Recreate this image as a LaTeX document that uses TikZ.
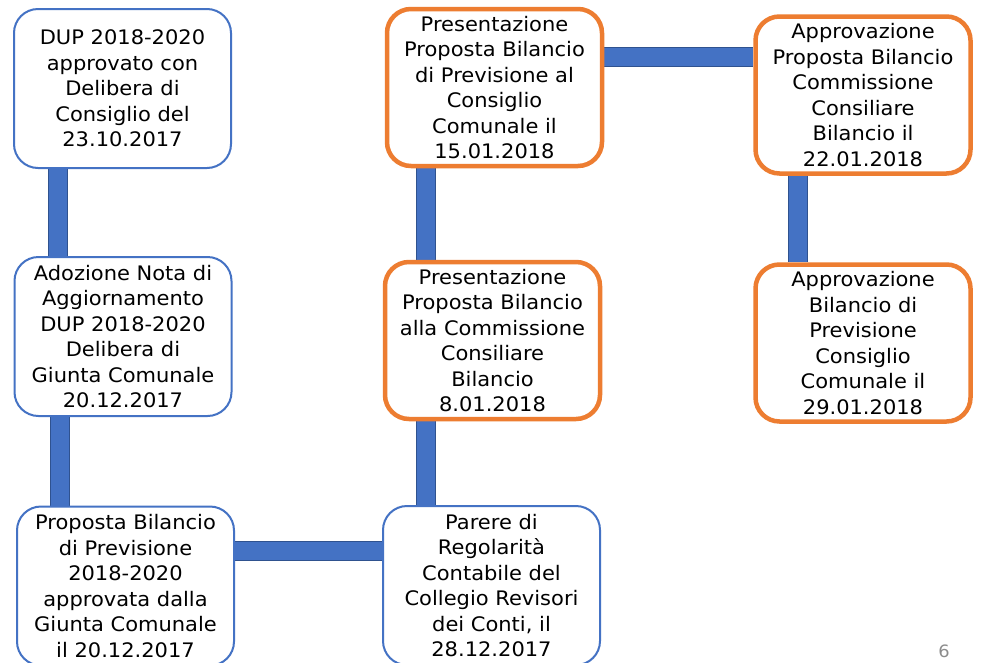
\documentclass[tikz,border=0pt]{standalone}
\usepackage{fontspec}
\setmainfont{DejaVu Sans}[FakeStretch=1.05]
\usetikzlibrary{backgrounds}
\definecolor{boxblue}{HTML}{4472C4}
\definecolor{bardark}{HTML}{2F528F}
\definecolor{boxorange}{HTML}{ED7D31}
\definecolor{pagenum}{HTML}{8C8C8C}
\tikzset{
  stepbox/.style={rounded corners=24pt, fill=white, inner sep=0pt, align=center,
    font=\fontsize{20}{25.5}\selectfont, text=black},
  bluebox/.style={stepbox, draw=boxblue, line width=2pt, minimum width=217pt, minimum height=159pt},
  orangebox/.style={stepbox, draw=boxorange, line width=4.5pt, minimum width=215pt, minimum height=157pt},
  bar/.style={draw=bardark, line width=1pt, double=boxblue, double distance=18pt}
}
\begin{document}
\begin{tikzpicture}[x=1pt,y=-1pt]
\useasboundingbox (0,0) rectangle (981,662);
\clip (0,0) rectangle (981,662);

\node[bluebox] (b1) at (122.5,88.5) {DUP 2018-2020\\approvato con\\Delibera di\\Consiglio del\\23.10.2017};
\node[bluebox] (b2) at (123,336.5) {Adozione Nota di\\Aggiornamento\\DUP 2018-2020\\Delibera di\\Giunta Comunale\\20.12.2017};
\node[bluebox] (b3) at (125.5,586) {Proposta Bilancio\\di Previsione\\2018-2020\\approvata dalla\\Giunta Comunale\\il 20.12.2017};
\node[bluebox] (b4) at (491.5,585.5) {Parere di\\Regolarità\\Contabile del\\Collegio Revisori\\dei Conti, il\\28.12.2017};
\node[orangebox] (b5) at (492.5,340.5) {Presentazione\\Proposta Bilancio\\alla Commissione\\Consiliare\\Bilancio\\8.01.2018};
\node[orangebox] (b6) at (494.5,87.5) {Presentazione\\Proposta Bilancio\\di Previsione al\\Consiglio\\Comunale il\\15.01.2018};
\node[orangebox] (b7) at (863,95) {Approvazione\\Proposta Bilancio\\Commissione\\Consiliare\\Bilancio il\\22.01.2018};
\node[orangebox] (b8) at (863,343) {Approvazione\\Bilancio di\\Previsione\\Consiglio\\Comunale il\\29.01.2018};

\node[anchor=base, font=\fontsize{17}{20}\selectfont, text=pagenum, inner sep=0pt] (pg) at (944,657) {6};

\begin{scope}[on background layer]
  \fill[white] (0,0) rectangle (981,662);
  \draw[bar] ([xshift=44.5pt]b1.south west) -- ([xshift=44.5pt]b1.south west |- b2.north);
  \draw[bar] ([xshift=46pt]b2.south west) -- ([xshift=46pt]b2.south west |- b3.north);
  \draw[bar] ([yshift=-45pt]b3.north east) -- ([yshift=-45pt]b3.north east -| b4.west);
  \draw[bar] ([xshift=44pt]b4.north west) -- ([xshift=44pt]b4.north west |- b5.south);
  \draw[bar] ([xshift=43pt]b5.north west) -- ([xshift=43pt]b5.north west |- b6.north);
  \draw[bar] ([yshift=-50pt]b6.north east) -- ([yshift=-50pt]b6.north east -| b7.west);
  \draw[bar] ([xshift=45pt]b7.south west) -- ([xshift=45pt]b7.south west |- b8.north);
\end{scope}
\end{tikzpicture}
\end{document}
